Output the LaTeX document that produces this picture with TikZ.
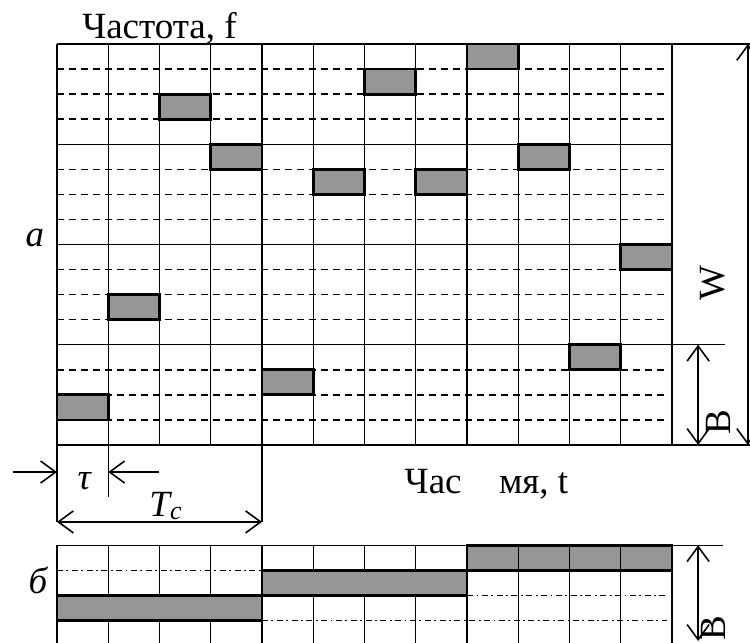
\documentclass[tikz,border=0pt]{standalone}
\usepackage{fontspec}
\setmainfont{Liberation Serif}
\usepackage{xcolor}
\usepackage{tikz}
\usetikzlibrary{arrows.meta}
\definecolor{chipgray}{RGB}{150,150,150}
\tikzset{
  gridline/.style ={line width=1.3pt},
  boldline/.style ={line width=2.8pt},
  dashline/.style ={line width=1.5pt, dash pattern=on 7pt off 5pt},
  dotline/.style  ={line width=1.4pt, dash pattern=on 6pt off 3.5pt on 1.8pt off 3.5pt},
  chip/.style     ={draw, line width=2.8pt, fill=chipgray},
  dimarrow/.style ={{Straight Barb[length=15pt,width=22pt]}-{Straight Barb[length=15pt,width=22pt]}, line width=1.6pt},
  onearrow/.style ={-{Straight Barb[length=15pt,width=22pt]}, line width=1.6pt},
  lbl/.style      ={font=\fontsize{37}{40}\selectfont, inner sep=0pt},
  ilbl/.style     ={font=\fontsize{37}{40}\selectfont\itshape, inner sep=0pt},
}

\begin{document}
\begin{tikzpicture}[x=51.25pt, y=-25.06pt]
  \useasboundingbox (-1.112,-1.756) rectangle (13.522,23.9);

  % --- a: frequency hopping grid
  \foreach \r in {1,2,3,5,6,7,9,10,11,13,14,15}
    \draw[dashline] (0,\r) -- (11.9,\r);
  \foreach \r in {4,8}
    \draw[gridline] (0,\r) -- (12,\r);
  \draw[gridline] (0,12) -- (13.03,12);
  \draw[gridline] (0,0) -- (13.6,0);
  \draw[gridline] (0,16) -- (13.6,16);
  \foreach \c in {0,...,12}
    \draw[gridline] (\c,0) -- (\c,16);
  \draw[boldline] (4,0) -- (4,16);
  \draw[boldline] (8,0) -- (8,16);
  \foreach \c/\r in {0/14,1/10,2/2,3/4,4/13,5/5,6/1,7/5,8/0,9/4,10/12,11/8}
    \draw[chip] (\c,\r) rectangle ++(1,1);

  \node[lbl, anchor=base] (freq) at (2,-0.2) {Частота, f};
  \node[ilbl] (la) at (-0.43,7.75) {а};

  % --- widths on the right
  \coordinate (wTop) at (13.48,0);
  \coordinate (wBot) at (13.48,16);
  \coordinate (bTop) at (12.51,12);
  \coordinate (bBot) at (12.51,16);
  \draw[dimarrow] (wTop) -- (wBot);
  \draw[dimarrow] (bTop) -- (bBot);
  \node[lbl, rotate=90] (W) at (12.8,9.54) {W};
  \node[lbl, rotate=90] (B) at (12.9,15.08) {B};

  % --- tau and Tc
  \draw[gridline] (0,16) -- (0,19.07);
  \draw[gridline] (1,16) -- (1,18.08);
  \draw[gridline] (4,16) -- (4,19.07);
  \coordinate (tauA) at (-0.86,17.08);
  \coordinate (tauB) at (0,17.08);
  \coordinate (tauC) at (2,17.08);
  \coordinate (tauD) at (1,17.08);
  \coordinate (tcA) at (0,19.07);
  \coordinate (tcB) at (4,19.07);
  \draw[onearrow] (tauA) -- (tauB);
  \draw[onearrow] (tauC) -- (tauD);
  \draw[dimarrow] (tcA) -- (tcB);
  \node[ilbl] (tau) at (0.53,17.45) {τ};
  \node[ilbl, anchor=base west] (Tc) at (1.8,18.84) {T\textsubscript{c}};
  \node[lbl, anchor=base] (time1) at (7.34,17.92) {Час};
  \node[lbl, anchor=base] (time2) at (9.3,17.92) {мя, t};

  % --- б: one wide channel
  \foreach \c in {0,...,12}
    \draw[gridline] (\c,20) -- (\c,23.95);
  \draw[dotline] (0,21) -- (4,21);
  \draw[dotline] (4,23) -- (11.9,23);
  \draw[dotline] (8,22) -- (11.9,22);
  \draw[gridline] (0,20) -- (13.0,20);
  \draw[chip] (0,22) rectangle (4,23);
  \draw[chip] (4,21) rectangle (8,22);
  \draw[chip] (8,20) rectangle (12,21);
  \draw[gridline] (9,20) -- (9,21);
  \draw[gridline] (10,20) -- (10,21);
  \draw[gridline] (11,20) -- (11,21);

  \coordinate (b2Top) at (12.51,20);
  \coordinate (b2Bot) at (12.51,23.82);
  \draw[dimarrow] (b2Top) -- (b2Bot);
  \node[lbl, rotate=90] (B2) at (12.8,23.3) {B};
  \node[ilbl] (lb) at (-0.37,21.4) {б};
\end{tikzpicture}
\end{document}
